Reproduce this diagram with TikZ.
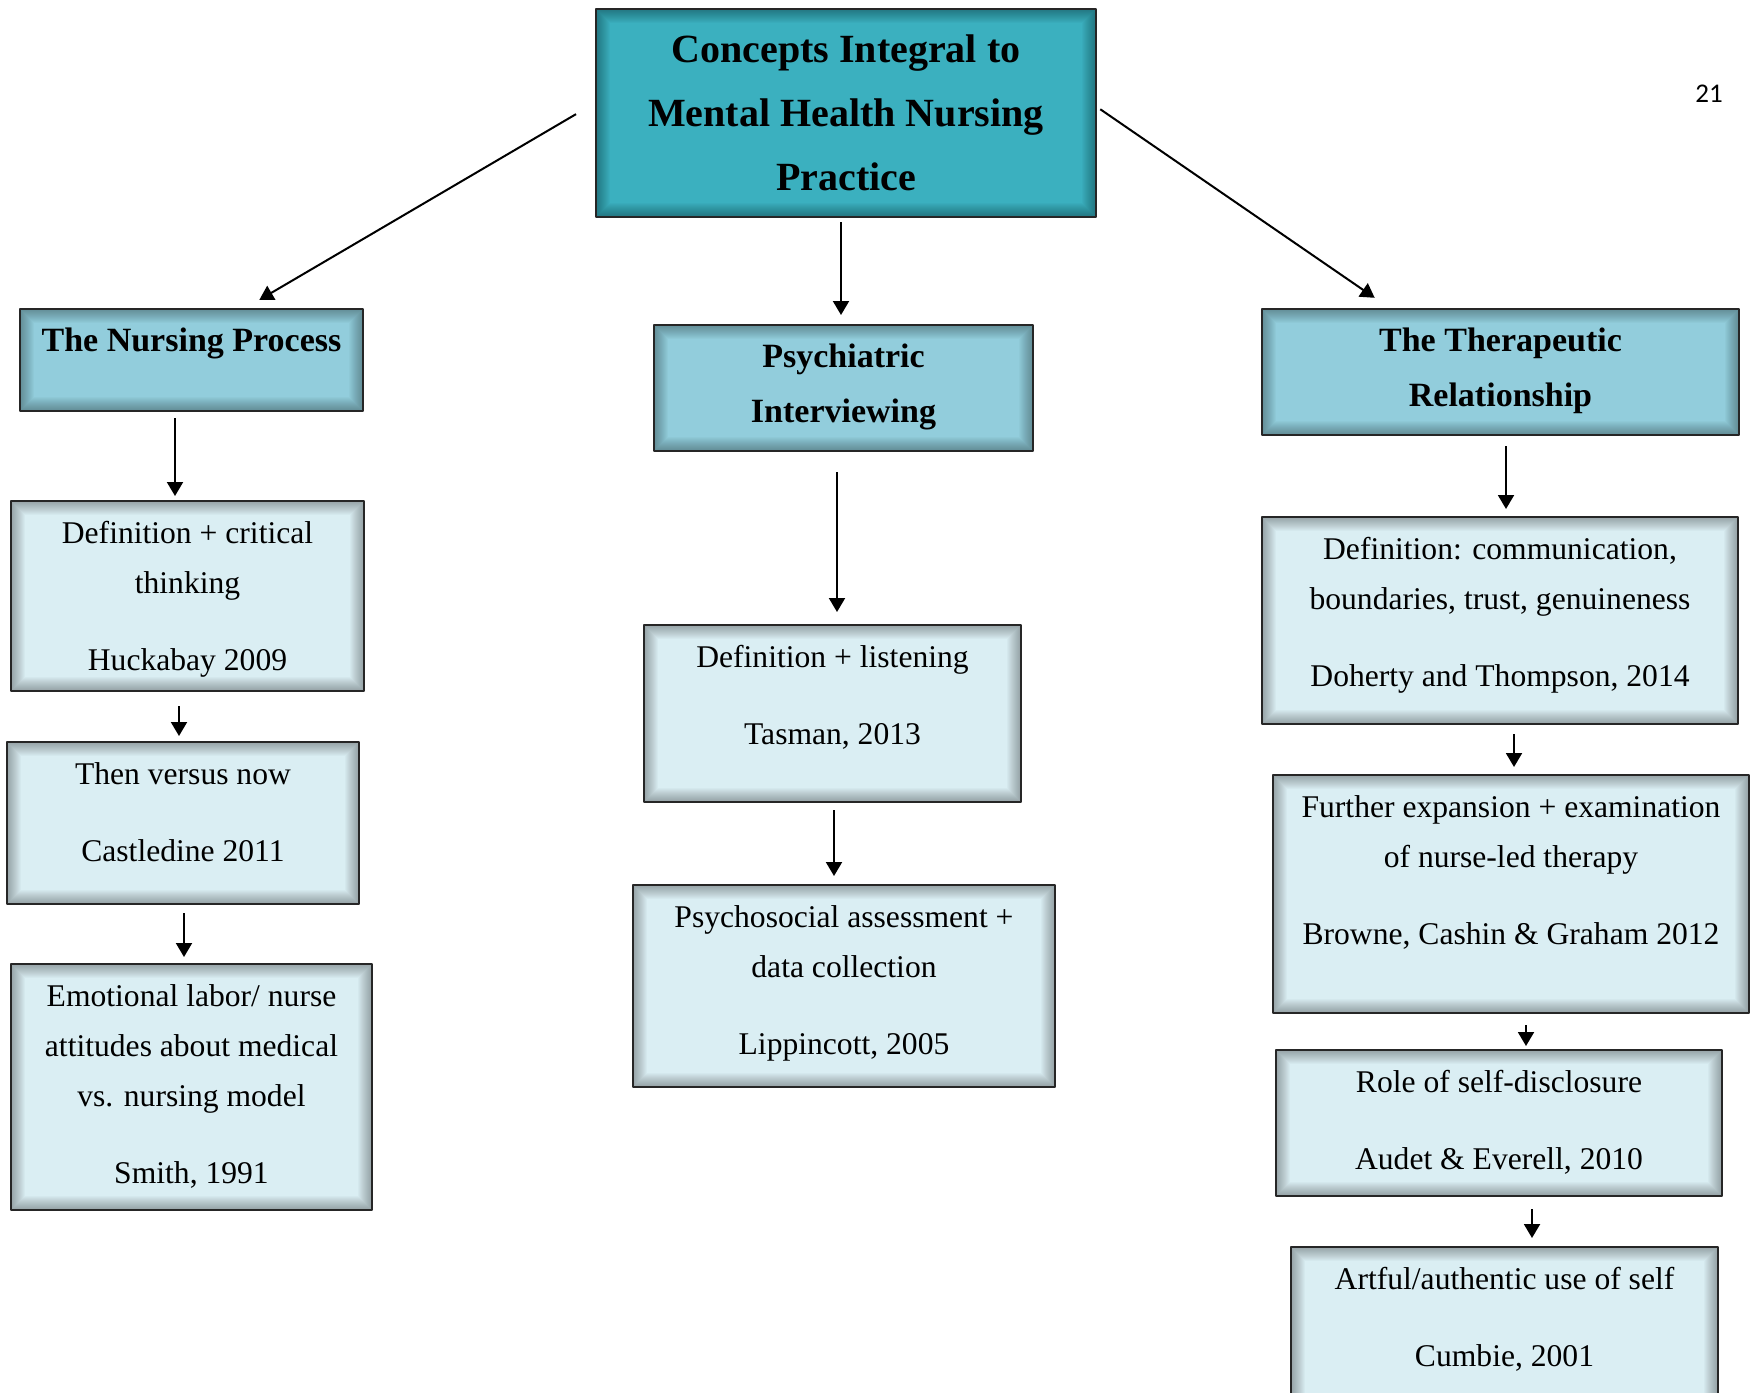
\documentclass[tikz,border=0pt]{standalone}
\usepackage{fontspec}
\setmainfont{Liberation Serif}
\newfontfamily\pagenumfont{Carlito}
\usetikzlibrary{arrows.meta}
\definecolor{topcol}{HTML}{3BB0BF}
\definecolor{headcol}{HTML}{92CDDC}
\definecolor{leafcol}{HTML}{DAEEF3}
% top aligned text inside a box of fixed size
\newcommand{\boxtext}[3]{\parbox[t][#2][t]{#1}{\centering\rule{0pt}{21.25pt}#3}}
\begin{document}
\begin{tikzpicture}[x=0.5pt,y=-0.5pt,line join=round,
	box/.style={draw=black!85,line width=1pt,inner sep=0pt,
		font=\fontsize{15.8pt}{25pt}\selectfont,
		path picture={\foreach \lw in {1,...,14}
			\draw[line width=\lw pt,black,opacity=0.022] (path picture bounding box.south west) rectangle (path picture bounding box.north east);}},
	leaf/.style={box,fill=leafcol},
	head/.style={box,fill=headcol,font=\bfseries\fontsize{17pt}{27.5pt}\selectfont},
	arr/.style={-{Triangle[length=7pt,width=8pt]},line width=1pt}]
		\path[use as bounding box] (0,0) rectangle (1750,1392);
		\clip (0,0) rectangle (1750,1392);
		\node[box,fill=topcol,font=\bfseries\fontsize{20pt}{32pt}\selectfont,
			minimum width=250pt,minimum height=104pt,align=center] (top) at (846,113)
			{Concepts Integral to\\Mental Health Nursing\\Practice};
		\node[font=\pagenumfont\fontsize{13.5pt}{16pt}\selectfont] (pg) at (1709,94) {21};
		% second level
		\node[head] (np) at (191.5,360) {\boxtext{171.5pt}{51pt}{The Nursing Process}};
		\node[head] (pi) at (843.5,388) {\boxtext{189.5pt}{63pt}{Psychiatric\\Interviewing}};
		\node[head] (tr) at (1500.5,372) {\boxtext{238.5pt}{63pt}{The Therapeutic\\Relationship}};
		% nursing process
		\node[leaf] (l1) at (187.5,596) {\boxtext{176.5pt}{95pt}{Definition + critical\\thinking\\[13.5pt]Huckabay 2009}};
		\node[leaf] (l2) at (183,823) {\boxtext{176pt}{81pt}{Then versus now\\[13.5pt]Castledine 2011}};
		\node[leaf] (l3) at (191.5,1087) {\boxtext{180.5pt}{123pt}{Emotional labor/ nurse\\attitudes about medical\\vs. nursing model\\[13.5pt]Smith, 1991}};
		% interviewing
		\node[leaf] (m1) at (832.5,713.5) {\boxtext{188.5pt}{88.5pt}{Definition + listening\\[13.5pt]Tasman, 2013}};
		\node[leaf] (m2) at (844,986) {\boxtext{211pt}{101pt}{Psychosocial assessment +\\data collection\\[13.5pt]Lippincott, 2005}};
		% therapeutic relationship
		\node[leaf] (r1) at (1500,620.5) {\boxtext{238pt}{103.5pt}{Definition: communication,\\boundaries, trust, genuineness\\[13.5pt]Doherty and Thompson, 2014}};
		\node[leaf] (r2) at (1511,894) {\boxtext{238pt}{119pt}{Further expansion + examination\\of nurse-led therapy\\[13.5pt]Browne, Cashin \& Graham 2012}};
		\node[leaf] (r3) at (1499,1123) {\boxtext{223pt}{73pt}{Role of self-disclosure\\[13.5pt]Audet \& Everell, 2010}};
		\node[leaf] (r4) at (1504.5,1332) {\boxtext{213.5pt}{85pt}{Artful/authentic use of self\\[13.5pt]Cumbie, 2001}};
		% arrows
		\draw[arr,shorten <=11pt,shorten >=8pt] ([yshift=5pt]top.west) -- ([xshift=27pt]np.north);
		\draw[arr,shorten <=2pt,shorten >=4.5pt] ([xshift=-2.5pt]top.south) -- ([xshift=-1.25pt]pi.north);
		\draw[arr,shorten <=2pt,shorten >=9pt] ([yshift=3pt]top.east) -- ([xshift=-55.5pt]tr.north);
		\draw[arr,shorten <=3pt,shorten >=2pt] ([xshift=-8.25pt]np.south) -- ([xshift=-6.25pt]l1.north);
		\draw[arr,shorten <=7pt,shorten >=2.5pt] ([xshift=-4.25pt]l1.south) -- ([xshift=-2pt]l2.north);
		\draw[arr,shorten <=4pt,shorten >=3pt] ([xshift=.5pt]l2.south) -- ([xshift=-3.75pt]l3.north);
		\draw[arr,shorten <=10pt,shorten >=6pt] ([xshift=-3.25pt]pi.south) -- ([xshift=2.25pt]m1.north);
		\draw[arr,shorten <=3.5pt,shorten >=4pt] ([xshift=.75pt]m1.south) -- ([xshift=-5pt]m2.north);
		\draw[arr,shorten <=5pt,shorten >=3.5pt] ([xshift=2.75pt]tr.south) -- ([xshift=3pt]r1.north);
		\draw[arr,shorten <=4.5pt,shorten >=3.5pt] ([xshift=7pt]r1.south) -- ([xshift=1.5pt]r2.north);
		\draw[arr,shorten <=5.5pt,shorten >=1.5pt] ([xshift=7.5pt]r2.south) -- ([xshift=13.5pt]r3.north);
		\draw[arr,shorten <=6pt,shorten >=4pt] ([xshift=16.5pt]r3.south) -- ([xshift=13.75pt]r4.north);
\end{tikzpicture}
\end{document}
